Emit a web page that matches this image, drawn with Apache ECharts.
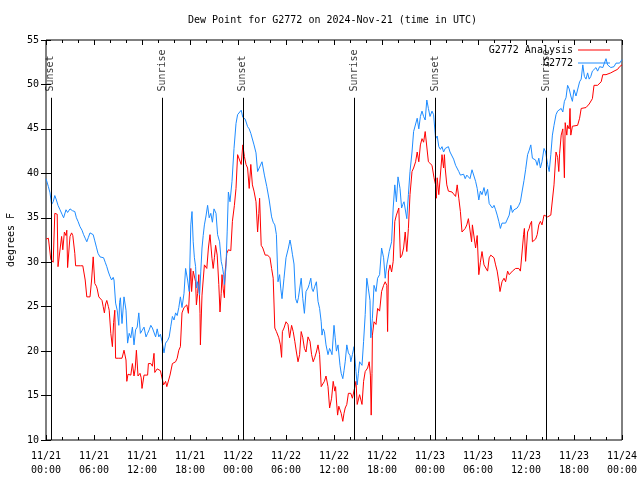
<!DOCTYPE html>
<html><head><meta charset="utf-8">
<script src="https://cdn.jsdelivr.net/npm/echarts@6/dist/echarts.min.js"></script>
<style>html,body{margin:0;padding:0;background:#fff}#c{width:640px;height:480px}</style>
</head><body><div id="c"></div>
<script>
const titleText = 'Dew Point for G2772 on 2024-Nov-21 (time in UTC)';
const yAxisTitle = 'degrees F';
const seriesNames = ['G2772 Analysis', 'G2772'];
const xTickLabels = ['11/21\n00:00','11/21\n06:00','11/21\n12:00','11/21\n18:00','11/22\n00:00','11/22\n06:00','11/22\n12:00','11/22\n18:00','11/23\n00:00','11/23\n06:00','11/23\n12:00','11/23\n18:00','11/24\n00:00'];
// hours since 2024-11-21 00:00 UTC, dew point (F)
const analysisData = [[0.0,32.6],[0.3,32.7],[0.6,30.3],[0.9,30.0],[1.1,35.5],[1.4,35.4],[1.5,29.5],[1.75,29.6],[1.95,32.9],[2.1,31.4],[2.3,33.4],[2.5,33.0],[2.6,33.6],[2.7,29.4],[2.9,29.4],[3.0,32.9],[3.2,33.3],[3.35,33.0],[3.5,33.1],[3.6,31.0],[3.7,29.6],[4.0,29.6],[4.3,29.6],[4.6,29.6],[4.9,28.0],[5.1,26.1],[5.3,26.1],[5.5,26.1],[5.7,28.0],[5.9,30.6],[6.1,27.6],[6.3,27.3],[6.4,27.0],[6.6,26.1],[6.8,26.0],[7.0,25.7],[7.15,25.0],[7.3,24.3],[7.45,25.3],[7.6,25.7],[7.8,25.0],[7.9,24.6],[8.1,22.0],[8.3,20.5],[8.45,23.2],[8.6,24.6],[8.7,19.2],[8.9,19.2],[9.1,19.2],[9.3,19.4],[9.5,19.2],[9.75,20.1],[10.0,19.0],[10.1,16.6],[10.25,17.4],[10.4,17.2],[10.6,17.3],[10.8,18.6],[11.0,17.2],[11.15,18.0],[11.3,20.1],[11.5,17.2],[11.75,17.5],[11.9,17.0],[12.0,15.8],[12.25,17.3],[12.5,17.3],[12.7,17.3],[12.8,18.6],[13.1,18.6],[13.3,18.3],[13.5,19.75],[13.6,17.6],[13.75,17.8],[13.9,18.0],[14.1,17.9],[14.3,17.8],[14.5,17.9],[14.7,16.2],[14.95,16.6],[15.1,16.0],[15.25,15.8],[15.5,17.3],[15.8,18.6],[16.0,18.8],[16.2,18.8],[16.4,19.2],[16.6,20.1],[16.8,20.5],[17.0,24.3],[17.25,24.9],[17.45,25.1],[17.6,25.2],[17.8,24.25],[18.0,27.8],[18.1,29.3],[18.2,26.7],[18.4,29.0],[18.55,29.0],[18.7,27.8],[18.8,25.2],[18.95,26.5],[19.1,28.6],[19.25,24.25],[19.3,20.7],[19.4,23.5],[19.5,26.3],[19.65,28.0],[19.8,29.7],[20.1,29.3],[20.3,31.6],[20.5,33.1],[20.75,30.4],[20.9,29.3],[21.05,30.5],[21.2,31.9],[21.4,30.8],[21.6,27.5],[21.75,24.4],[21.9,26.5],[22.0,28.6],[22.15,27.0],[22.3,26.0],[22.4,29.0],[22.6,31.0],[22.8,31.4],[23.1,31.3],[23.3,34.6],[23.55,36.4],[23.75,38.3],[23.95,42.1],[24.2,41.9],[24.4,41.0],[24.6,43.2],[24.8,41.9],[25.0,41.0],[25.2,40.6],[25.4,38.3],[25.6,41.0],[25.8,38.7],[26.0,38.0],[26.25,36.8],[26.45,33.4],[26.6,35.5],[26.7,37.2],[26.9,31.9],[27.1,31.6],[27.4,30.8],[27.7,30.8],[28.0,30.5],[28.2,29.3],[28.4,28.2],[28.6,22.6],[28.8,22.2],[29.1,21.5],[29.3,20.7],[29.45,19.3],[29.55,22.2],[29.75,22.6],[30.0,23.3],[30.25,23.0],[30.45,21.5],[30.7,22.9],[30.9,22.2],[31.1,21.1],[31.3,19.9],[31.5,18.8],[31.7,19.6],[31.9,22.2],[32.1,21.5],[32.3,20.3],[32.5,19.9],[32.75,21.6],[33.0,21.1],[33.2,19.6],[33.4,18.8],[33.6,19.3],[33.8,19.9],[34.0,20.7],[34.2,19.6],[34.4,16.0],[34.6,15.9],[34.8,16.6],[35.0,17.2],[35.25,16.0],[35.45,13.6],[35.7,14.7],[35.9,16.6],[36.1,15.5],[36.2,16.0],[36.3,14.5],[36.45,12.8],[36.6,13.8],[36.75,13.6],[36.9,13.0],[37.1,12.1],[37.25,13.0],[37.4,13.6],[37.6,14.0],[37.8,15.25],[38.1,15.25],[38.3,14.7],[38.5,14.9],[38.75,16.6],[38.9,14.0],[39.2,15.1],[39.5,14.0],[39.7,16.6],[39.9,17.7],[40.2,18.1],[40.4,18.8],[40.55,17.3],[40.65,12.8],[40.75,17.5],[40.8,21.8],[41.0,23.3],[41.25,23.0],[41.45,24.8],[41.7,24.5],[41.95,26.7],[42.2,27.4],[42.4,27.8],[42.6,27.4],[42.7,22.2],[42.8,28.9],[43.0,29.7],[43.2,28.9],[43.4,30.1],[43.6,34.6],[43.8,35.3],[44.1,36.1],[44.3,30.5],[44.5,30.8],[44.7,31.6],[44.9,33.4],[45.1,31.2],[45.3,33.8],[45.5,37.6],[45.75,40.2],[45.95,40.6],[46.2,41.3],[46.4,42.4],[46.6,41.3],[46.8,43.2],[47.0,43.9],[47.2,43.5],[47.4,44.7],[47.6,44.5],[47.8,41.3],[48.0,41.1],[48.25,40.9],[48.45,40.9],[48.5,39.5],[48.7,38.7],[48.8,37.2],[48.9,39.5],[49.1,37.6],[49.3,37.6],[49.5,42.1],[49.7,40.6],[49.8,42.1],[49.9,40.6],[50.1,38.7],[50.3,38.0],[50.5,37.9],[50.75,37.9],[50.95,38.0],[51.2,37.4],[51.4,38.7],[51.6,37.2],[51.8,35.7],[52.0,33.4],[52.2,33.2],[52.4,33.8],[52.6,34.2],[52.8,34.9],[53.0,35.1],[53.2,32.3],[53.3,34.2],[53.5,34.0],[53.7,31.6],[53.9,33.0],[54.1,28.6],[54.3,30.0],[54.5,31.2],[54.75,29.7],[54.95,29.5],[55.2,29.0],[55.4,30.5],[55.6,30.8],[55.8,30.6],[56.0,30.5],[56.2,29.7],[56.4,29.0],[56.6,27.8],[56.75,26.7],[57.0,27.8],[57.25,28.2],[57.45,27.8],[57.7,29.0],[57.9,28.6],[58.1,28.6],[58.3,29.0],[58.5,29.2],[58.7,29.3],[58.9,29.2],[59.1,29.3],[59.3,29.0],[59.5,29.0],[59.7,33.1],[59.8,33.8],[59.95,30.1],[60.2,33.4],[60.4,33.8],[60.5,34.2],[60.7,34.6],[60.8,32.3],[61.0,32.3],[61.2,32.6],[61.4,33.1],[61.6,34.2],[61.8,34.6],[62.0,34.2],[62.25,35.3],[62.45,35.5],[62.7,35.1],[62.9,35.2],[63.1,35.3],[63.3,35.3],[63.5,38.7],[63.75,42.4],[63.95,41.8],[64.1,40.2],[64.2,42.2],[64.4,44.3],[64.6,45.0],[64.7,42.4],[64.8,39.5],[64.9,45.7],[65.1,44.3],[65.2,45.4],[65.4,45.0],[65.5,47.3],[65.6,44.3],[65.8,45.3],[66.0,45.3],[66.45,45.4],[66.7,46.2],[66.9,47.3],[67.1,47.4],[67.5,47.4],[67.7,47.6],[67.9,47.8],[68.3,48.4],[68.5,49.9],[68.95,49.9],[69.4,50.3],[69.6,51.1],[70.0,51.1],[70.6,51.3],[71.0,51.5],[71.45,51.7],[71.7,52.0],[72.0,52.2]];
const observedData = [[0.0,39.4],[0.15,39.2],[0.3,38.5],[0.5,37.8],[0.7,36.5],[0.9,36.8],[1.1,37.5],[1.3,37.0],[1.5,36.4],[1.75,35.9],[2.0,35.4],[2.2,35.0],[2.4,35.1],[2.5,35.9],[2.7,35.6],[3.0,36.0],[3.3,35.8],[3.6,35.7],[3.8,35.0],[4.0,34.6],[4.25,34.0],[4.5,33.6],[4.7,33.1],[4.9,32.7],[5.1,32.3],[5.3,32.8],[5.5,33.3],[5.7,33.4],[5.9,33.1],[6.1,32.4],[6.3,31.7],[6.5,31.0],[6.75,30.6],[7.0,30.5],[7.2,30.5],[7.4,30.0],[7.6,29.5],[7.8,28.9],[8.0,28.4],[8.2,28.0],[8.4,28.3],[8.5,28.0],[8.7,25.4],[8.9,24.6],[9.1,22.9],[9.2,25.5],[9.3,26.0],[9.5,23.1],[9.75,26.1],[10.0,24.6],[10.2,20.9],[10.4,22.0],[10.6,21.5],[10.8,22.7],[11.0,20.7],[11.2,22.4],[11.4,22.7],[11.6,24.3],[11.8,22.0],[12.0,22.3],[12.25,22.7],[12.5,21.6],[12.7,22.0],[12.9,22.4],[13.1,22.9],[13.3,22.6],[13.5,22.7],[13.7,21.6],[13.9,22.5],[14.1,21.6],[14.3,21.9],[14.5,21.1],[14.75,19.8],[14.95,20.9],[15.2,21.2],[15.4,21.6],[15.6,22.8],[15.8,23.9],[16.0,23.5],[16.2,24.3],[16.4,24.0],[16.6,24.9],[16.8,26.1],[17.0,24.9],[17.25,26.5],[17.45,29.3],[17.7,28.0],[17.9,26.7],[18.1,34.2],[18.25,35.7],[18.4,32.3],[18.55,30.5],[18.7,29.5],[18.8,27.1],[18.95,27.8],[19.2,26.3],[19.35,29.0],[19.5,31.6],[19.65,33.0],[19.8,34.2],[20.0,35.2],[20.2,36.4],[20.4,35.0],[20.6,35.5],[20.8,34.5],[21.0,36.0],[21.25,35.5],[21.45,33.1],[21.7,32.3],[21.9,30.1],[22.05,29.5],[22.2,28.6],[22.3,27.5],[22.5,29.5],[22.65,33.5],[22.8,37.9],[23.0,36.8],[23.25,39.1],[23.5,42.8],[23.75,45.6],[23.95,46.6],[24.2,46.8],[24.4,47.1],[24.6,46.3],[24.9,46.1],[25.2,45.25],[25.4,45.0],[25.6,44.5],[25.8,44.4],[26.0,43.2],[26.25,42.3],[26.45,40.2],[26.7,40.4],[27.0,41.3],[27.3,39.8],[27.6,38.5],[27.9,37.0],[28.2,35.1],[28.4,34.5],[28.6,34.2],[28.8,33.1],[29.0,27.8],[29.2,28.6],[29.35,27.0],[29.5,25.9],[29.75,28.2],[30.0,30.5],[30.3,31.6],[30.5,32.5],[30.65,31.8],[30.8,30.9],[31.0,29.8],[31.2,25.9],[31.4,25.4],[31.55,26.0],[31.7,25.9],[31.9,28.2],[32.1,25.9],[32.3,24.25],[32.5,26.7],[32.75,27.1],[32.9,27.5],[33.1,28.2],[33.25,27.0],[33.4,26.7],[33.6,27.3],[33.8,27.8],[34.0,25.6],[34.2,24.8],[34.4,23.3],[34.5,21.8],[34.65,22.5],[34.8,22.2],[35.0,20.7],[35.25,19.6],[35.45,20.3],[35.6,20.0],[35.75,19.6],[36.0,22.9],[36.15,21.5],[36.3,20.0],[36.5,20.7],[36.75,18.4],[36.9,17.5],[37.1,16.9],[37.25,17.8],[37.4,18.8],[37.6,20.7],[37.8,19.8],[38.0,19.5],[38.1,18.8],[38.3,19.6],[38.5,20.5],[38.75,17.7],[38.9,16.2],[39.05,17.5],[39.2,18.8],[39.5,18.4],[39.7,21.1],[39.9,24.1],[40.1,28.2],[40.3,27.0],[40.5,25.7],[40.6,21.5],[40.8,23.7],[41.0,27.4],[41.25,26.7],[41.45,28.2],[41.7,28.6],[41.95,31.6],[42.2,30.5],[42.4,28.2],[42.6,29.7],[42.9,31.2],[43.2,32.3],[43.4,36.1],[43.6,38.7],[43.8,36.8],[44.0,39.6],[44.25,38.3],[44.45,36.1],[44.6,36.5],[44.75,36.8],[44.9,36.8],[45.1,34.9],[45.3,37.6],[45.5,40.2],[45.75,42.4],[45.95,44.7],[46.2,44.7],[46.4,46.2],[46.6,45.0],[46.8,46.4],[47.0,47.0],[47.2,46.4],[47.4,46.0],[47.6,48.25],[47.8,47.3],[48.0,46.4],[48.25,47.0],[48.45,46.6],[48.7,43.9],[48.9,44.2],[49.1,43.0],[49.3,42.7],[49.5,43.0],[49.7,42.4],[49.9,42.8],[50.1,42.6],[50.3,43.0],[50.5,42.4],[50.75,42.2],[50.95,41.6],[51.2,40.9],[51.4,40.9],[51.6,40.2],[51.8,39.8],[52.0,39.6],[52.2,39.9],[52.4,39.4],[52.6,39.8],[52.8,39.9],[53.0,39.4],[53.25,40.4],[53.45,40.2],[53.7,39.1],[53.9,38.3],[54.1,37.0],[54.3,38.0],[54.5,37.6],[54.75,38.4],[54.95,37.5],[55.2,38.2],[55.4,36.6],[55.6,36.4],[55.8,36.1],[56.0,36.4],[56.2,35.9],[56.4,35.3],[56.6,34.6],[56.8,33.8],[57.0,34.4],[57.25,34.2],[57.45,34.4],[57.7,34.6],[57.9,35.3],[58.1,36.4],[58.3,35.6],[58.5,35.9],[58.7,36.1],[58.9,36.1],[59.1,36.4],[59.3,36.8],[59.5,37.9],[59.75,39.2],[59.95,40.4],[60.2,42.1],[60.4,42.6],[60.6,43.2],[60.8,41.7],[61.0,41.9],[61.2,41.5],[61.4,40.9],[61.6,41.7],[61.8,40.6],[62.0,41.3],[62.25,42.8],[62.45,42.4],[62.7,41.0],[62.9,40.2],[63.0,40.0],[63.1,42.1],[63.3,44.3],[63.5,45.4],[63.75,46.6],[63.95,47.0],[64.2,46.8],[64.4,47.3],[64.6,46.9],[64.8,48.1],[65.0,48.5],[65.2,49.9],[65.4,49.5],[65.6,48.7],[65.8,48.1],[66.0,49.4],[66.25,48.7],[66.45,48.9],[66.7,50.3],[66.9,50.6],[67.1,52.2],[67.3,50.9],[67.5,50.6],[67.7,51.3],[67.9,50.6],[68.1,50.9],[68.3,51.5],[68.5,51.5],[68.75,51.9],[68.95,51.5],[69.2,52.0],[69.4,52.2],[69.6,51.9],[69.8,52.4],[70.0,52.9],[70.2,52.2],[70.4,52.4],[70.6,51.9],[70.8,52.0],[71.0,52.0],[71.25,52.4],[71.45,52.6],[71.7,52.4],[71.9,52.6],[72.0,52.8]];
const sunEventHours = [0.6, 14.55, 24.6, 38.55, 48.65, 62.55];
const sunEventNames = ['Sunset','Sunrise','Sunset','Sunrise','Sunset','Sunrise'];
const sunLineTop = 48.5;
const sunLabelBase = 49.2;

const FONT = 'DejaVu Sans Mono';
const chart = echarts.init(document.getElementById('c'), null, {renderer: 'canvas'});
const xAxisCommon = {
  type: 'value', min: 0, max: 72, interval: 6,
  axisLine: {show: false},
  axisTick: {show: true, inside: true, length: 5, lineStyle: {color: '#000', width: 1}},
  minorTick: {show: true, splitNumber: 3, length: 3, lineStyle: {color: '#000', width: 1}},
  splitLine: {show: false}, minorSplitLine: {show: false}
};
const yAxisCommon = {
  type: 'value', min: 10, max: 55, interval: 5,
  axisLine: {show: false},
  axisTick: {show: true, inside: true, length: 5, lineStyle: {color: '#000', width: 1}},
  splitLine: {show: false}
};
chart.setOption({
  animation: false,
  backgroundColor: '#fff',
  title: {text: titleText, left: 188, top: 15, padding: 0, textStyle: {fontFamily: FONT, fontSize: 10, fontWeight: 'normal', color: '#000'}},
  grid: {left: 46, right: 18, top: 40, bottom: 40, outerBoundsMode: 'none', containLabel: false, show: true, borderColor: '#000', borderWidth: 1, backgroundColor: 'transparent'},
  legend: {
    orient: 'vertical', right: 25, top: 39, align: 'right', itemWidth: 32, itemHeight: 1, itemGap: 1,
    icon: 'rect', data: seriesNames,
    textStyle: {fontFamily: FONT, fontSize: 10, color: '#000', width: 90, align: 'right', lineHeight: 12}
  },
  xAxis: [
    Object.assign({}, xAxisCommon, {position: 'bottom', axisLabel: {show: true, margin: 9, fontFamily: FONT, fontSize: 10, color: '#000', lineHeight: 14, formatter: v => xTickLabels[Math.round(v / 6)] || ''}}),
    Object.assign({}, xAxisCommon, {position: 'top', axisLabel: {show: false}})
  ],
  yAxis: [
    Object.assign({}, yAxisCommon, {position: 'left', name: yAxisTitle, nameLocation: 'middle', nameRotate: 90, nameGap: 30,
      nameTextStyle: {fontFamily: FONT, fontSize: 10, color: '#000'},
      axisLabel: {show: true, margin: 7, fontFamily: FONT, fontSize: 10, color: '#000'}}),
    Object.assign({}, yAxisCommon, {position: 'right', axisLabel: {show: false}})
  ],
  series: [
    {name: seriesNames[0], type: 'line', data: analysisData, showSymbol: false, symbol: 'none', color: '#ff0000', lineStyle: {color: '#ff0000', width: 1}, z: 2},
    {name: seriesNames[1], type: 'line', data: observedData, showSymbol: false, symbol: 'none', color: '#1e8cff', lineStyle: {color: '#1e8cff', width: 1}, z: 3},
    {name: 'sun', type: 'scatter', symbolSize: 0, z: 5, silent: true,
      data: sunEventHours.map((h, i) => ({value: [h, sunLabelBase], name: sunEventNames[i]})),
      label: {show: true, position: 'right', distance: 0, rotate: 90, formatter: p => p.name, fontFamily: FONT, fontSize: 10, color: '#000'},
      markLine: {symbol: 'none', silent: true, animation: false, label: {show: false},
        lineStyle: {color: '#000', width: 1, type: 'solid'},
        data: sunEventHours.map(h => [{coord: [h, 10]}, {coord: [h, sunLineTop]}])}
    }
  ]
});
</script></body></html>
